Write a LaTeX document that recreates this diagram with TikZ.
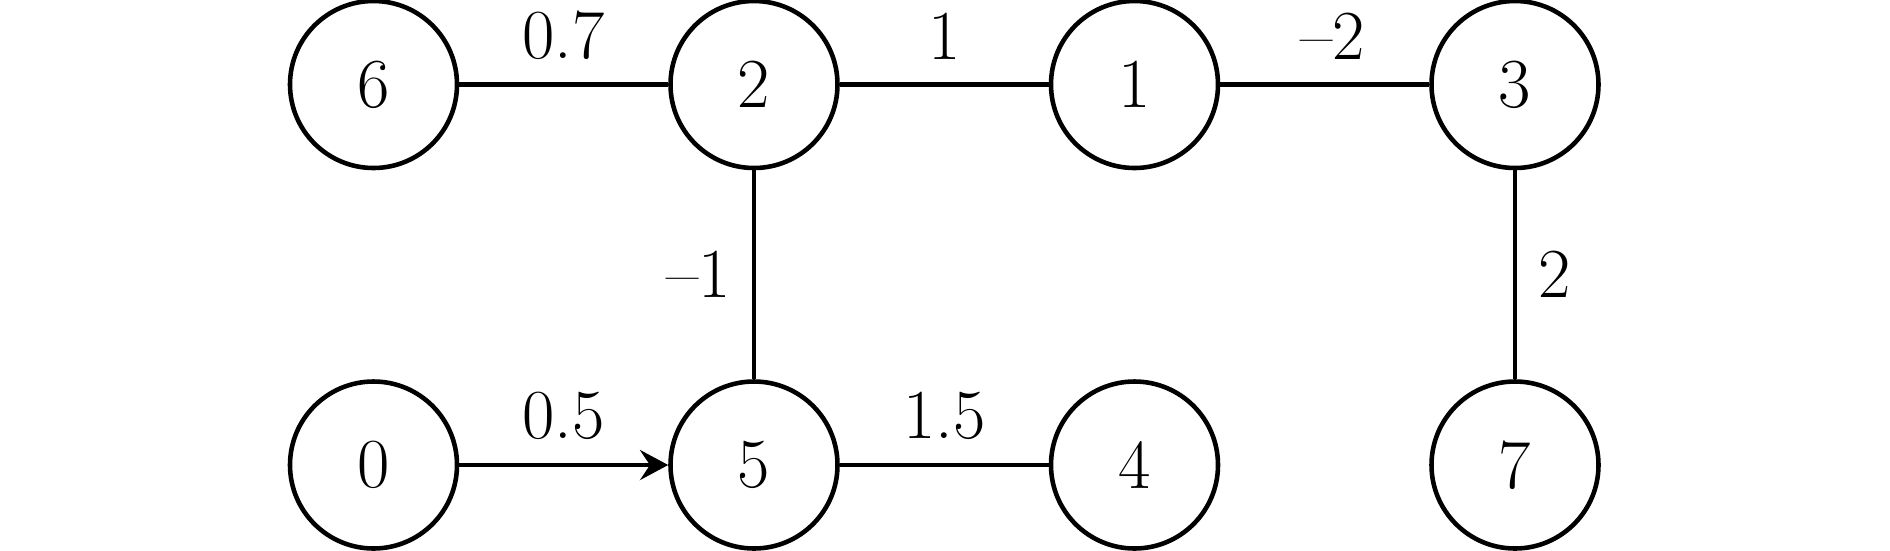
\documentclass[tikz,border=0pt]{standalone}
\usetikzlibrary{arrows.meta}
\begin{document}
\begin{tikzpicture}[
  vert/.style={circle,draw,line width=1.3pt,minimum size=1.67cm,inner sep=0pt,font=\fontsize{20}{24}\selectfont},
  edge/.style={line width=1.3pt},
  elabel/.style={inner sep=2pt,font=\fontsize{20}{24}\selectfont}
]
\useasboundingbox (0,0) rectangle (18.9,5.5);
\node[vert] (n6) at (3.735,4.655) {6};
\node[vert] (n2) at (7.54,4.655) {2};
\node[vert] (n1) at (11.345,4.655) {1};
\node[vert] (n3) at (15.15,4.655) {3};
\node[vert] (n0) at (3.735,0.85) {0};
\node[vert] (n5) at (7.54,0.85) {5};
\node[vert] (n4) at (11.345,0.85) {4};
\node[vert] (n7) at (15.15,0.85) {7};
\draw[edge] (n6) -- node[elabel,above=4.5pt] {0.7} (n2);
\draw[edge] (n2) -- node[elabel,above=4.5pt] {1} (n1);
\draw[edge] (n1) -- node[elabel,above=4.5pt,xshift=0.08cm] {\textendash2} (n3);
\draw[edge] (n2) -- node[elabel,left=4pt] {\textendash1} (n5);
\draw[edge] (n3) -- node[elabel,right=4pt] {2} (n7);
\draw[edge,-{Stealth[length=8pt,width=8.5pt,inset=2.8pt]}] (n0) -- node[elabel,above=4.5pt] {0.5} (n5);
\draw[edge] (n5) -- node[elabel,above=4.5pt] {1.5} (n4);
\end{tikzpicture}
\end{document}
